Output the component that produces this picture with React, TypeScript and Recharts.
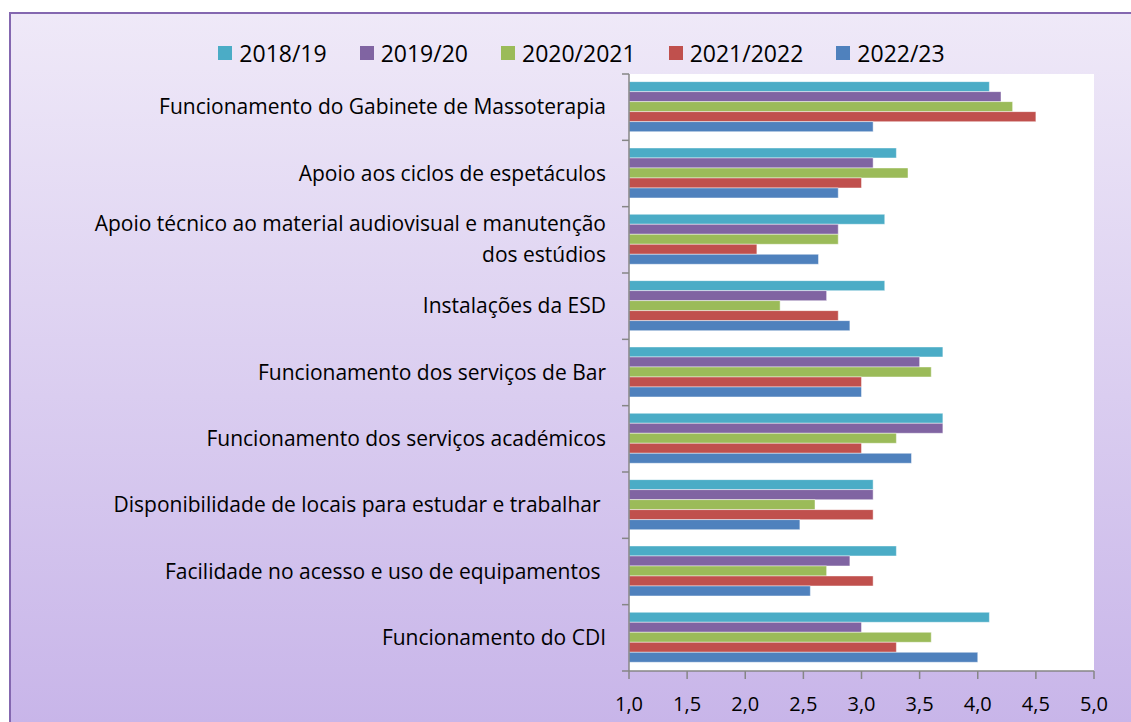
import React from "react";
import { BarChart, Bar, XAxis, YAxis, Legend, CartesianGrid } from "recharts";

const categories = [
  "Funcionamento do Gabinete de Massoterapia",
  "Apoio aos ciclos de espetáculos",
  "Apoio técnico ao material audiovisual e manutenção\ndos estúdios",
  "Instalações da ESD",
  "Funcionamento dos serviços de Bar",
  "Funcionamento dos serviços académicos",
  "Disponibilidade de locais para estudar e trabalhar ",
  "Facilidade no acesso e uso de equipamentos ",
  "Funcionamento do CDI",
];

const seriesNames = ["2018/19", "2019/20", "2020/2021", "2021/2022", "2022/23"];
const seriesColors = ["#4BACC6", "#8064A2", "#9BBB59", "#C0504D", "#4F81BD"];

const values2018 = [4.1, 3.3, 3.2, 3.2, 3.7, 3.7, 3.1, 3.3, 4.1];
const values2019 = [4.2, 3.1, 2.8, 2.7, 3.5, 3.7, 3.1, 2.9, 3.0];
const values2020 = [4.3, 3.4, 2.8, 2.3, 3.6, 3.3, 2.6, 2.7, 3.6];
const values2021 = [4.5, 3.0, 2.1, 2.8, 3.0, 3.0, 3.1, 3.1, 3.3];
const values2022 = [3.1, 2.8, 2.63, 2.9, 3.0, 3.43, 2.47, 2.56, 4.0];

const xTicks = [1, 1.5, 2, 2.5, 3, 3.5, 4, 4.5, 5];

const allSeries = [values2018, values2019, values2020, values2021, values2022];
const data = categories.map((name, i) => {
  const row: Record<string, any> = { name };
  seriesNames.forEach((s, k) => {
    row[s] = allSeries[k][i];
  });
  return row;
});

const W = 1131;
const H = 722;
const Y_TICK_SIZE = 7;
const Y_TICK_MARGIN = 16;
const AXIS_COLOR = "#868686";

const YTick = (props: any) => {
  const { x, y, payload, index, visibleTicksCount } = props;
  const half = payload && typeof payload.offset === "number" ? payload.offset : 33;
  const lx2 = x + Y_TICK_MARGIN + Y_TICK_SIZE;
  const lx1 = lx2 - Y_TICK_SIZE;
  const lines = String(payload.value).split("\n");
  const n = lines.length;
  return (
    <g>
      <line x1={lx1} x2={lx2} y1={y - half} y2={y - half} stroke={AXIS_COLOR} strokeWidth={1.5} />
      {index === visibleTicksCount - 1 && (
        <line x1={lx1} x2={lx2} y1={y + half} y2={y + half} stroke={AXIS_COLOR} strokeWidth={1.5} />
      )}
      <text
        x={x}
        textAnchor="end"
        fontSize={21}
        fill="#000"
        fontFamily="Open Sans"
        style={{ whiteSpace: "pre" }}
      >
        {lines.map((l, i) => (
          <tspan key={i} x={x} y={y + 7 + (i - (n - 1) / 2) * 31}>
            {l}
          </tspan>
        ))}
      </text>
    </g>
  );
};

const renderLegend = () => (
  <div
    style={{
      display: "flex",
      justifyContent: "center",
      alignItems: "center",
      fontFamily: "Open Sans",
      fontSize: 23,
      lineHeight: "30px",
      color: "#000",
    }}
  >
    {seriesNames.map((s, i) => (
      <div
        key={s}
        style={{
          display: "flex",
          alignItems: "center",
          marginRight: i < seriesNames.length - 1 ? 33 : 0,
        }}
      >
        <span
          style={{
            display: "inline-block",
            width: 14,
            height: 14,
            background: seriesColors[i],
            marginRight: 7,
          }}
        />
        <span>{s}</span>
      </div>
    ))}
  </div>
);

export default function App() {
  return (
    <div
      style={{
        position: "absolute",
        left: 0,
        top: 0,
        width: W,
        height: H,
        overflow: "hidden",
        background: "#ffffff",
      }}
    >
      <div
        style={{
          position: "absolute",
          left: 9,
          top: 12,
          width: 1200,
          height: 800,
          borderLeft: "2px solid #8467B0",
          borderTop: "2px solid #8467B0",
          background: "linear-gradient(to bottom, #EFE9F8 0px, #C8B5E9 710px)",
        }}
      />
      <div style={{ position: "absolute", left: 0, top: 0 }}>
        <BarChart
          width={W}
          height={H}
          data={data}
          layout="vertical"
          margin={{ top: 74, right: 37, bottom: 0, left: 0 }}
          barCategoryGap="11.5%"
          barGap={0}
          style={{ fontFamily: "Open Sans" }}
        >
          <CartesianGrid fill="#ffffff" horizontal={false} vertical={false} />
          <XAxis
            type="number"
            domain={[1, 5]}
            ticks={xTicks}
            allowDataOverflow
            height={51}
            tickSize={8}
            tickMargin={18}
            tickFormatter={(v: number) => v.toFixed(1).replace(".", ",")}
            tick={{ fontSize: 20, fill: "#000", fontFamily: "Open Sans" }}
            axisLine={{ stroke: AXIS_COLOR, strokeWidth: 1.5 }}
            tickLine={{ stroke: AXIS_COLOR, strokeWidth: 1.5 }}
          />
          <YAxis
            type="category"
            dataKey="name"
            width={629}
            interval={0}
            tickSize={Y_TICK_SIZE}
            tickMargin={Y_TICK_MARGIN}
            tickLine={false}
            axisLine={{ stroke: AXIS_COLOR, strokeWidth: 1.5 }}
            tick={<YTick />}
          />
          <Legend
            verticalAlign="middle"
            align="center"
            layout="horizontal"
            wrapperStyle={{ top: 38, left: 16, width: W }}
            content={renderLegend}
          />
          {seriesNames.map((s, i) => (
            <Bar
              key={s}
              dataKey={s}
              fill={seriesColors[i]}
              stroke="#ffffff"
              strokeOpacity={0.45}
              strokeWidth={1}
              isAnimationActive={false}
            />
          ))}
        </BarChart>
      </div>
    </div>
  );
}
